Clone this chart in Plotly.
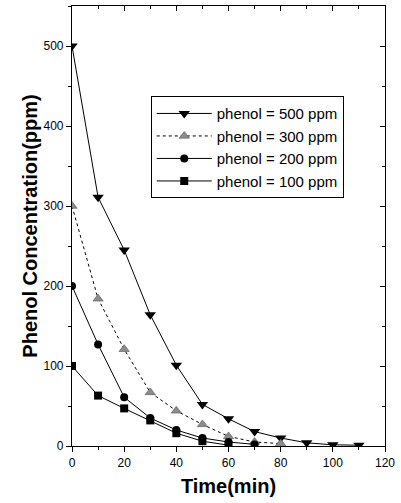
import plotly.graph_objects as go

# Sampling times (min) and phenol concentrations (ppm)
time_500 = [0, 10, 20, 30, 40, 50, 60, 70, 80, 90, 100, 110]
conc_500 = [500, 311, 245, 164, 101, 52, 34, 18, 10, 4, 1.5, 1]

time_300 = [0, 10, 20, 30, 40, 50, 60, 70, 80]
conc_300 = [300, 184, 121, 67, 44, 27, 12, 5, 3]

time_200 = [0, 10, 20, 30, 40, 50, 60, 70]
conc_200 = [200, 127, 61, 35, 20, 10, 5, 2]

time_100 = [0, 10, 20, 30, 40, 50, 60]
conc_100 = [100, 63, 47, 32, 16, 6, 1]

x_ticks = [0, 20, 40, 60, 80, 100, 120]
y_ticks = [0, 100, 200, 300, 400, 500]

X_RANGE = [0, 120]
Y_RANGE = [0, 550]

series = [
    ("phenol = 500 ppm", time_500, conc_500, "triangle-down", "black", "solid", 10),
    ("phenol = 300 ppm", time_300, conc_300, "triangle-up", "#8c8c8c", "dot", 9),
    ("phenol = 200 ppm", time_200, conc_200, "circle", "black", "solid", 8),
    ("phenol = 100 ppm", time_100, conc_100, "square", "black", "solid", 8),
]

FONT = "Liberation Sans, Arial"

fig = go.Figure()
for name, xs, ys, sym, col, dash, size in series:
    fig.add_trace(go.Scatter(
        x=xs, y=ys, name=name, mode="lines+markers",
        line=dict(color="black", width=1, dash=dash),
        marker=dict(symbol=sym, size=size, color=col,
                    line=dict(color="#555555" if col != "black" else "black",
                              width=0.6 if col != "black" else 0)),
        cliponaxis=True,
    ))

# empty trace so the top/right frame axes are drawn
fig.add_trace(go.Scatter(x=[], y=[], xaxis="x2", yaxis="y2",
                         showlegend=False, hoverinfo="skip"))

tick_font = dict(family=FONT, size=12, color="black")
title_font = dict(family=FONT, size=20, color="black", weight="bold")

base = dict(showgrid=False, zeroline=False, showline=True, linecolor="black",
            linewidth=1.2, tickwidth=1, tickcolor="black")

fig.update_layout(
    width=401, height=503,
    margin=dict(l=72, r=11, t=6, b=57),
    paper_bgcolor="white", plot_bgcolor="white",
    showlegend=True,
    legend=dict(
        x=0.2516, y=0.795, xanchor="left", yanchor="top",
        bgcolor="white", bordercolor="black", borderwidth=1,
        font=dict(family=FONT, size=15, color="black"),
        tracegroupgap=0, itemwidth=55,
    ),
    xaxis=dict(range=X_RANGE, tickvals=x_ticks, ticks="outside", ticklen=5,
               tickfont=tick_font,
               minor=dict(dtick=10, ticks="outside", ticklen=3, tickwidth=1, tickcolor="black"),
               title=dict(text="Time(min)", standoff=10, font=title_font),
               **base),
    yaxis=dict(range=Y_RANGE, tickvals=y_ticks, ticks="outside", ticklen=5,
               tickfont=tick_font,
               minor=dict(dtick=50, ticks="outside", ticklen=3, tickwidth=1, tickcolor="black"),
               title=dict(text="Phenol Concentration(ppm)", standoff=0, font=title_font),
               **base),
    xaxis2=dict(range=X_RANGE, overlaying="x", side="top", anchor="y2",
                tickvals=x_ticks, ticks="inside", ticklen=5, showticklabels=False,
                minor=dict(dtick=10, ticks="inside", ticklen=3, tickwidth=1, tickcolor="black"),
                **base),
    yaxis2=dict(range=Y_RANGE, overlaying="y", side="right", anchor="x2",
                tickvals=y_ticks, ticks="inside", ticklen=5, showticklabels=False,
                minor=dict(dtick=50, ticks="inside", ticklen=3, tickwidth=1, tickcolor="black"),
                **base),
)

fig.write_html("out.html")
